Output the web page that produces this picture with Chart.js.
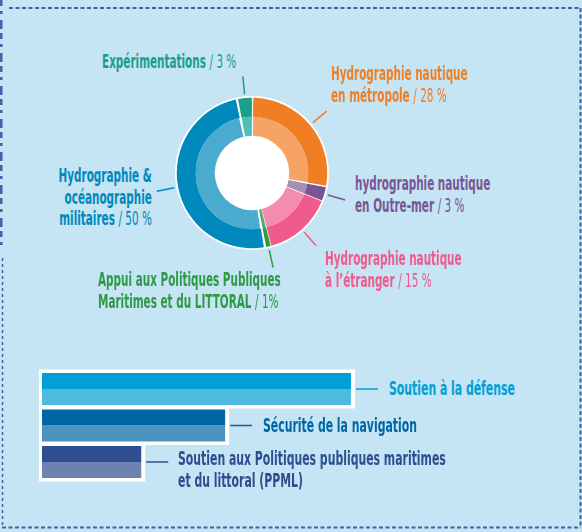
<!DOCTYPE html>
<html lang="fr">
<head>
<meta charset="utf-8">
<script src="https://cdn.jsdelivr.net/npm/chart.js@4.4.1/dist/chart.umd.min.js"></script>
<style>
    html, body { margin: 0; padding: 0; }
    body {
        width: 582px; height: 532px; position: relative; overflow: hidden;
        background: #c5e4f4;
        font-family: "DejaVu Sans Condensed", "DejaVu Sans", sans-serif;
    }
    #frame { position: absolute; left: 0; top: 0; }
    #donutWrap { position: absolute; left: 152px; top: 73px; width: 200px; height: 200px; }
    #barWrap { position: absolute; left: 30px; top: 360px; width: 350px; height: 130px; }
    .lbl {
        position: absolute; font-size: 20px; font-weight: bold; line-height: 21.5px;
        white-space: nowrap; transform: scaleX(0.58); transform-origin: left top;
    }
    .lbl span { font-weight: normal; }
    .right { text-align: right; transform-origin: right top; }
    .bar { transform: scaleX(0.605); }
</style>
</head>
<body>
<svg id="frame" width="582" height="532">
    <g stroke="#3d63a8" stroke-width="2" fill="none" stroke-dasharray="4 2.5">
        <line x1="9" y1="8" x2="581" y2="8"/>
        <line x1="580.5" y1="8" x2="580.5" y2="528"/>
        <line x1="2" y1="527.5" x2="581" y2="527.5"/>
        <line x1="2.5" y1="258" x2="2.5" y2="528" stroke-width="1.5" stroke-dasharray="3 3"/>
        <line x1="1" y1="0" x2="1" y2="246" stroke-width="3" stroke-dasharray="6 5 3 6 9 4"/>
    </g>
</svg>

<div id="donutWrap"><canvas id="donutChart" width="200" height="200"></canvas></div>
<div id="barWrap"><canvas id="barChart" width="350" height="130"></canvas></div>

<div class="lbl" style="left:102px; top:51px; color:#1aa08a;">Expérimentations <span>/ 3 %</span></div>
<div class="lbl" style="left:331px; top:63px; color:#f07f23;">Hydrographie nautique<br>en métropole <span>/ 28 %</span></div>
<div class="lbl" style="left:355px; top:173px; color:#7a5595;">hydrographie nautique<br>en Outre-mer <span>/ 3 %</span></div>
<div class="lbl" style="left:325px; top:248px; color:#ee5b8c;">Hydrographie nautique<br>à l’étranger <span>/ 15 %</span></div>
<div class="lbl" style="left:98px; top:269px; color:#2e9a46;">Appui aux Politiques Publiques<br>Maritimes et du LITTORAL <span>/ 1%</span></div>
<div class="lbl right" style="right:430px; top:165px; color:#0089bc;">Hydrographie &amp;<br>océanographie<br>militaires <span>/ 50 %</span></div>

<div class="lbl bar" style="left:389px; top:378px; color:#00a0d6;">Soutien à la défense</div>
<div class="lbl bar" style="left:263px; top:415px; color:#0067a6;">Sécurité de la navigation</div>
<div class="lbl bar" style="left:178px; top:448px; color:#2d4f8f;">Soutien aux Politiques publiques maritimes<br>et du littoral (PPML)</div>

<script>
// donut: share of activity (%)
const segLabels = [
    'Hydrographie nautique en métropole',
    'hydrographie nautique en Outre-mer',
    'Hydrographie nautique à l’étranger',
    'Appui aux Politiques Publiques Maritimes et du LITTORAL',
    'Hydrographie & océanographie militaires',
    'Expérimentations'
];
const segValues = [28, 3, 15, 1, 50, 3];
const segDark = ['#f07f23', '#7a5595', '#ee5b8c', '#2e9a46', '#0089bc', '#1aa08a'];
const segLight = ['#f5a465', '#a58fb6', '#f48bb0', '#4fae62', '#4aabcf', '#4fc0b1'];

// bars: relative weight of the three missions
const barLabels = [
    'Soutien à la défense',
    'Sécurité de la navigation',
    'Soutien aux Politiques publiques maritimes et du littoral (PPML)'
];
const barValues = [52.3, 31, 16.8];
const barDark = ['#00a0d6', '#0067a6', '#2d4f8f'];
const barLight = ['#4fb9e0', '#4c93c0', '#6d82b1'];

const donutDecor = {
    id: 'donutDecor',
    beforeDatasetsDraw(chart) {
        const arc = chart.getDatasetMeta(0).data[0];
        const ctx = chart.ctx;
        ctx.save();
        ctx.fillStyle = '#ffffff';
        ctx.beginPath();
        ctx.arc(arc.x, arc.y, arc.outerRadius + 3, 0, Math.PI * 2);
        ctx.fill();
        ctx.restore();
    },
    afterDatasetsDraw(chart) {
        const ctx = chart.ctx;
        ctx.save();
        ctx.lineWidth = 1.5;
        chart.getDatasetMeta(0).data.forEach((arc, i) => {
            const mid = (arc.startAngle + arc.endAngle) / 2;
            const r1 = arc.outerRadius + 5, r2 = arc.outerRadius + 23;
            ctx.strokeStyle = segDark[i];
            ctx.beginPath();
            ctx.moveTo(arc.x + Math.cos(mid) * r1, arc.y + Math.sin(mid) * r1);
            ctx.lineTo(arc.x + Math.cos(mid) * r2, arc.y + Math.sin(mid) * r2);
            ctx.stroke();
        });
        ctx.restore();
    }
};

new Chart(document.getElementById('donutChart').getContext('2d'), {
    type: 'doughnut',
    data: {
        labels: segLabels,
        datasets: [
            { data: segValues, backgroundColor: segDark, borderWidth: 0, spacing: 2.5 },
            { data: segValues, backgroundColor: segLight, borderWidth: 0, spacing: 2.5 }
        ]
    },
    options: {
        responsive: false,
        animation: false,
        events: [],
        radius: 74,
        cutout: '48.6%',
        plugins: { legend: { display: false }, tooltip: { enabled: false } }
    },
    plugins: [donutDecor]
});

const barDecor = {
    id: 'barDecor',
    beforeDatasetsDraw(chart) {
        const ctx = chart.ctx;
        const top = chart.getDatasetMeta(0).data;
        const bottom = chart.getDatasetMeta(1).data;
        ctx.save();
        ctx.fillStyle = '#ffffff';
        top.forEach((el, i) => {
            const y0 = el.y - el.height / 2;
            const y1 = bottom[i].y + bottom[i].height / 2;
            ctx.fillRect(el.base - 3, y0 - 3.5, el.x - el.base + 7, y1 - y0 + 7);
        });
        ctx.restore();
    },
    afterDatasetsDraw(chart) {
        const ctx = chart.ctx;
        const top = chart.getDatasetMeta(0).data;
        const bottom = chart.getDatasetMeta(1).data;
        ctx.save();
        ctx.lineWidth = 1.5;
        top.forEach((el, i) => {
            const yMid = ((el.y - el.height / 2) + (bottom[i].y + bottom[i].height / 2)) / 2;
            ctx.strokeStyle = barDark[i];
            ctx.beginPath();
            ctx.moveTo(el.x + 5, yMid);
            ctx.lineTo(el.x + 27, yMid);
            ctx.stroke();
        });
        ctx.restore();
    }
};

new Chart(document.getElementById('barChart').getContext('2d'), {
    type: 'bar',
    data: {
        labels: barLabels,
        datasets: [
            { data: barValues, backgroundColor: barDark, borderWidth: 0 },
            { data: barValues, backgroundColor: barLight, borderWidth: 0 }
        ]
    },
    options: {
        indexAxis: 'y',
        responsive: false,
        animation: false,
        events: [],
        categoryPercentage: 0.877,
        barPercentage: 1,
        layout: { padding: { left: 12, right: 19, top: 10.75, bottom: 9.75 } },
        scales: {
            x: { display: false, min: 0, max: 54 },
            y: { display: false }
        },
        plugins: { legend: { display: false }, tooltip: { enabled: false } }
    },
    plugins: [barDecor]
});
</script>
</body>
</html>
